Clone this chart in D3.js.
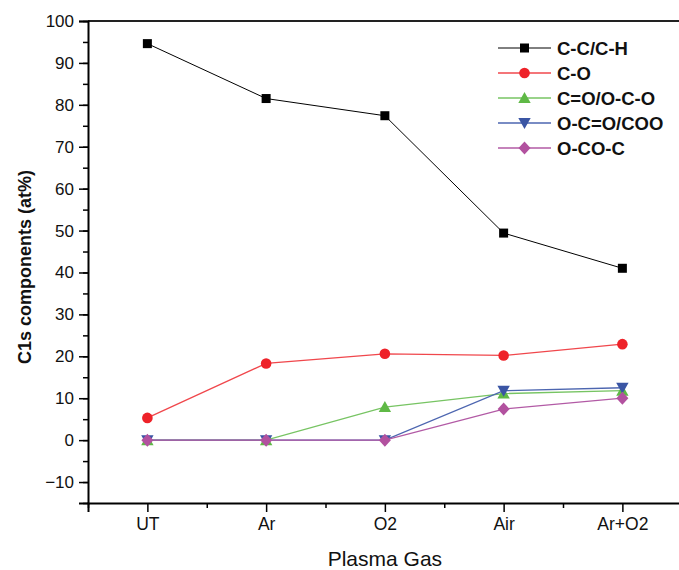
<!DOCTYPE html>
<html><head><meta charset="utf-8">
<script src="https://cdn.jsdelivr.net/npm/d3@7"></script>
<style>
html,body{margin:0;padding:0;background:#fff;}
svg{display:block;font-family:Arial,"Liberation Sans",sans-serif;}
</style></head>
<body>
<svg id="chart" width="679" height="570"></svg>
<script>
const categories = ["UT", "Ar", "O2", "Air", "Ar+O2"];
const seriesNames = ["C-C/C-H", "C-O", "C=O/O-C-O", "O-C=O/COO", "O-CO-C"];
const ccch   = [94.6, 81.5, 77.4, 49.4, 41.0];
const co     = [5.3, 18.3, 20.6, 20.2, 22.9];
const coOco  = [0, 0, 7.9, 11.1, 11.8];
const ocoo   = [0, 0, 0, 11.8, 12.5];
const ocoC   = [0, 0, 0, 7.4, 10.0];
const yTicks = [-10, 0, 10, 20, 30, 40, 50, 60, 70, 80, 90, 100];

const series = [
  {name: seriesNames[0], values: ccch,  color: "#000000", line: "#000000", shape: "square"},
  {name: seriesNames[1], values: co,    color: "#ee2229", line: "#f0474c", shape: "circle"},
  {name: seriesNames[2], values: coOco, color: "#5fb946", line: "#77c463", shape: "triangle"},
  {name: seriesNames[3], values: ocoo,  color: "#3a55a4", line: "#4d66b0", shape: "triangleDown"},
  {name: seriesNames[4], values: ocoC,  color: "#b2519f", line: "#b25aa5", shape: "diamond"}
];

const svg = d3.select("#chart");
const mLeft = 88, mTop = 21, mBottom = 503;
const x = d3.scaleLinear().domain([-0.5, 4.5]).range([mLeft, mLeft + 5 * 118.75]);
const y = d3.scaleLinear().domain([-15, 100]).range([mBottom, mTop]);

// top frame line
svg.append("line").attr("x1", mLeft).attr("x2", 679).attr("y1", mTop).attr("y2", mTop)
  .attr("stroke", "#222").attr("stroke-width", 2);

// minor y ticks
const yAxisMinor = d3.axisLeft(y).tickValues(d3.range(-15, 101, 5)).tickSize(5).tickFormat("");
svg.append("g").attr("transform", `translate(${mLeft},0)`).call(yAxisMinor)
  .call(g => g.select(".domain").remove())
  .selectAll("line").attr("stroke", "#000").attr("stroke-width", 1.5);

const yAxis = d3.axisLeft(y).tickValues(yTicks).tickSize(9).tickPadding(5);
svg.append("g").attr("transform", `translate(${mLeft},0)`).call(yAxis)
  .call(g => g.select(".domain").attr("stroke", "#000").attr("stroke-width", 2))
  .call(g => g.selectAll("line").attr("stroke", "#000").attr("stroke-width", 1.5))
  .call(g => g.selectAll("text").attr("font-size", "17px").attr("fill", "#111").attr("font-family", "Arial, 'Liberation Sans', sans-serif"));

// x minor ticks
const xMinor = d3.axisBottom(x).tickValues(d3.range(-0.5, 4.6, 1)).tickSize(5).tickFormat("");
svg.append("g").attr("transform", `translate(0,${mBottom})`).call(xMinor)
  .call(g => g.select(".domain").remove())
  .selectAll("line").attr("stroke", "#000").attr("stroke-width", 1.5);

const xAxis = d3.axisBottom(x).tickValues(d3.range(0, 5)).tickSize(9).tickPadding(6)
  .tickFormat(i => categories[i]);
svg.append("g").attr("transform", `translate(0,${mBottom})`).call(xAxis)
  .call(g => g.select(".domain").attr("stroke", "#000").attr("stroke-width", 2))
  .call(g => g.selectAll("line").attr("stroke", "#000").attr("stroke-width", 1.5))
  .call(g => g.selectAll("text").attr("font-size", "17.5px").attr("fill", "#111").attr("font-family", "Arial, 'Liberation Sans', sans-serif"));

// axis titles
svg.append("text").attr("x", x(2)).attr("y", 566).attr("text-anchor", "middle")
  .attr("font-size", "21px").attr("fill", "#111").text("Plasma Gas");
svg.append("text").attr("transform", `translate(31,267) rotate(-90)`).attr("text-anchor", "middle")
  .attr("font-size", "18px").attr("font-weight", "bold").attr("fill", "#111").text("C1s components (at%)");

function marker(g, shape, color) {
  if (shape === "square") {
    g.append("rect").attr("x", -4.5).attr("y", -4.5).attr("width", 9).attr("height", 9).attr("fill", color);
  } else if (shape === "circle") {
    g.append("circle").attr("r", 5.3).attr("fill", color);
  } else if (shape === "triangle") {
    g.append("path").attr("d", "M0,-6 L6.2,5 L-6.2,5 Z").attr("fill", color);
  } else if (shape === "triangleDown") {
    g.append("path").attr("d", "M0,6 L6.2,-5 L-6.2,-5 Z").attr("fill", color);
  } else if (shape === "diamond") {
    g.append("path").attr("d", "M0,-6.5 L6,0 L0,6.5 L-6,0 Z").attr("fill", color);
  }
}

const line = d3.line().x((d, i) => x(i)).y(d => y(d));
series.forEach(s => {
  svg.append("path").datum(s.values).attr("d", line).attr("fill", "none")
    .attr("stroke", s.line).attr("stroke-width", s.shape === "square" ? 1 : 1.3);
});
series.forEach(s => {
  s.values.forEach((v, i) => {
    const g = svg.append("g").attr("transform", `translate(${x(i)},${y(v)})`);
    marker(g, s.shape, s.color);
  });
});

// legend
const lg = svg.append("g");
series.forEach((s, i) => {
  const ly = 48 + i * 25;
  lg.append("line").attr("x1", 498).attr("x2", 551).attr("y1", ly).attr("y2", ly)
    .attr("stroke", s.line).attr("stroke-width", s.shape === "square" ? 1 : 1.3);
  const g = lg.append("g").attr("transform", `translate(524.5,${ly})`);
  marker(g, s.shape, s.color);
  lg.append("text").attr("x", 557).attr("y", ly).attr("dy", "0.36em")
    .attr("font-size", "18.5px").attr("font-weight", "bold").attr("fill", "#111").text(s.name);
});
</script>
</body></html>
